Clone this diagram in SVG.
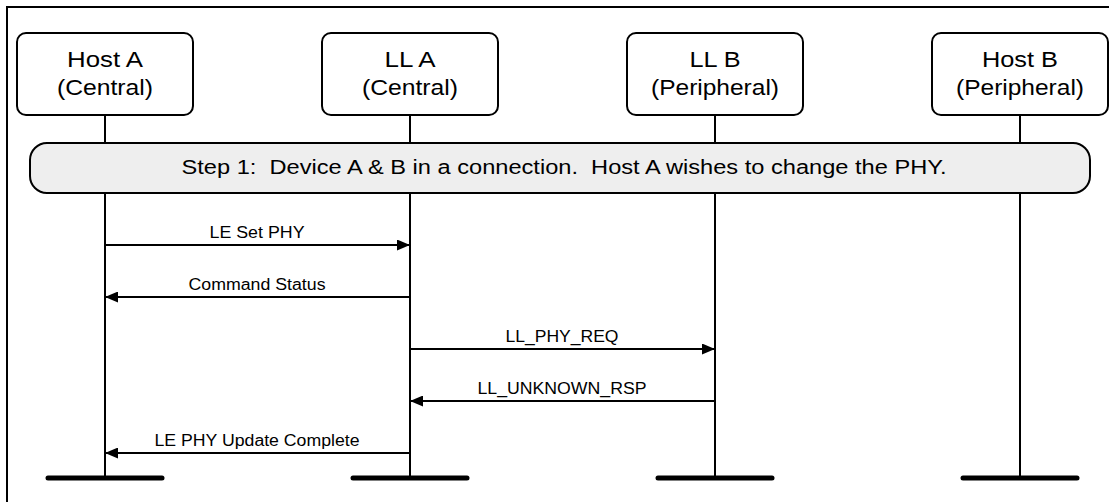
<svg xmlns="http://www.w3.org/2000/svg" width="1109" height="502" viewBox="0 0 1109 502">
<style>
.box{fill:#fff;stroke:#000;stroke-width:2}
.t{font-family:"Liberation Sans",Arial,sans-serif;fill:#000;text-anchor:middle}
.big{font-size:22px}
.lab{font-size:16px}
.life{stroke:#000;stroke-width:2}
.ground{stroke:#000;stroke-width:5;stroke-linecap:round}
.msg{stroke:#000;stroke-width:2;fill:none;marker-end:url(#ah)}
</style>
<defs>
<marker id="ah" viewBox="0 0 13 11" refX="13" refY="5.5" markerWidth="13" markerHeight="11" markerUnits="userSpaceOnUse" orient="auto">
<path d="M0,0 L13,5.5 L0,11 z" fill="#000"/>
</marker>
</defs>
<rect x="0" y="0" width="1109" height="502" fill="#fff"/>
<rect x="7" y="7" width="1120" height="520" fill="none" stroke="#000" stroke-width="2"/>
<g id="lifelines">
<line class="life" x1="105" y1="115" x2="105" y2="478"/>
<line class="life" x1="410" y1="115" x2="410" y2="478"/>
<line class="life" x1="715" y1="115" x2="715" y2="478"/>
<line class="life" x1="1020" y1="115" x2="1020" y2="478"/>
<line class="ground" x1="48" y1="478" x2="162" y2="478"/>
<line class="ground" x1="353" y1="478" x2="467" y2="478"/>
<line class="ground" x1="658" y1="478" x2="772" y2="478"/>
<line class="ground" x1="963" y1="478" x2="1077" y2="478"/>
</g>
<g id="hostA">
<rect class="box" x="17" y="33" width="176" height="82" rx="9"/>
<text class="t big" x="105" y="67" textLength="76" lengthAdjust="spacingAndGlyphs">Host A</text>
<text class="t big" x="105" y="95" textLength="96" lengthAdjust="spacingAndGlyphs">(Central)</text>
</g>
<g id="llA">
<rect class="box" x="322" y="33" width="176" height="82" rx="9"/>
<text class="t big" x="410" y="67" textLength="51" lengthAdjust="spacingAndGlyphs">LL A</text>
<text class="t big" x="410" y="95" textLength="96" lengthAdjust="spacingAndGlyphs">(Central)</text>
</g>
<g id="llB">
<rect class="box" x="627" y="33" width="176" height="82" rx="9"/>
<text class="t big" x="715" y="67" textLength="51" lengthAdjust="spacingAndGlyphs">LL B</text>
<text class="t big" x="715" y="95" textLength="128" lengthAdjust="spacingAndGlyphs">(Peripheral)</text>
</g>
<g id="hostB">
<rect class="box" x="932" y="33" width="176" height="82" rx="9"/>
<text class="t big" x="1020" y="67" textLength="76" lengthAdjust="spacingAndGlyphs">Host B</text>
<text class="t big" x="1020" y="95" textLength="128" lengthAdjust="spacingAndGlyphs">(Peripheral)</text>
</g>
<g id="step1">
<rect x="30" y="143" width="1060" height="50" rx="17" fill="#eeeeee" stroke="#000" stroke-width="2"/>
<text class="t" style="font-size:20px;white-space:pre" xml:space="preserve" x="564" y="174" textLength="765" lengthAdjust="spacingAndGlyphs">Step 1:  Device A &amp; B in a connection.  Host A wishes to change the PHY.</text>
</g>
<g id="connectors">
<line class="msg" x1="105" y1="245" x2="410" y2="245"/>
<text class="t lab" x="257" y="238" textLength="95" lengthAdjust="spacingAndGlyphs">LE Set PHY</text>
<line class="msg" x1="410" y1="297" x2="105" y2="297"/>
<text class="t lab" x="257" y="290" textLength="137" lengthAdjust="spacingAndGlyphs">Command Status</text>
<line class="msg" x1="410" y1="349" x2="715" y2="349"/>
<text class="t lab" x="562" y="342" textLength="113" lengthAdjust="spacingAndGlyphs">LL_PHY_REQ</text>
<line class="msg" x1="715" y1="401" x2="410" y2="401"/>
<text class="t lab" x="562" y="394" textLength="169" lengthAdjust="spacingAndGlyphs">LL_UNKNOWN_RSP</text>
<line class="msg" x1="410" y1="453" x2="105" y2="453"/>
<text class="t lab" x="257" y="446" textLength="205" lengthAdjust="spacingAndGlyphs">LE PHY Update Complete</text>
</g>
</svg>
